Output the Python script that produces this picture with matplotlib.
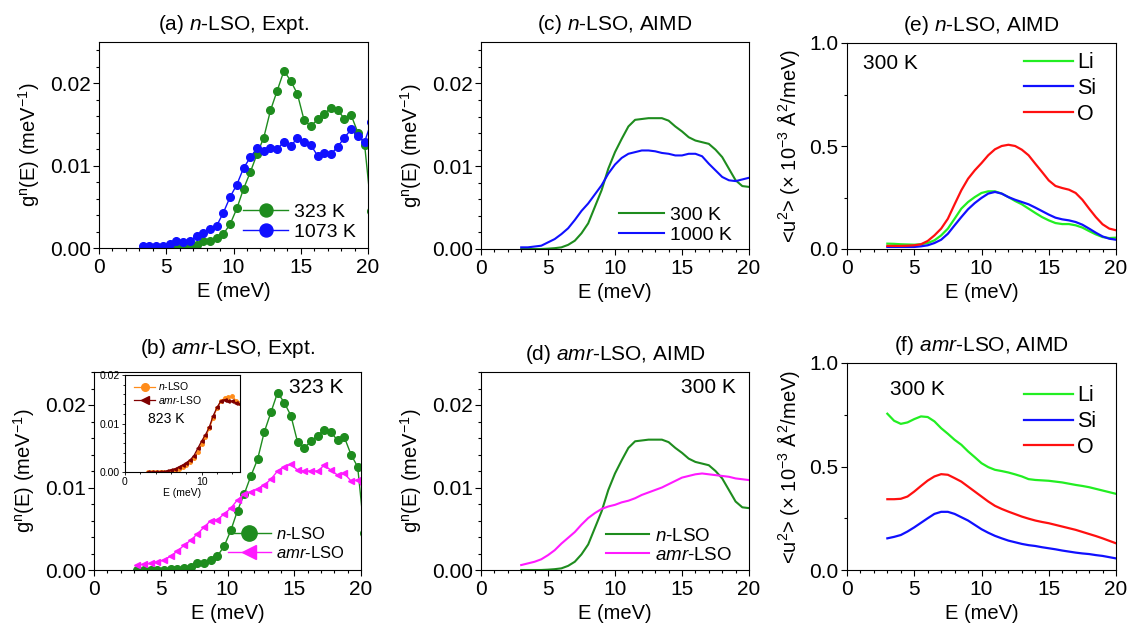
import matplotlib
matplotlib.use('Agg')
import matplotlib.pyplot as plt
from matplotlib.ticker import MultipleLocator

plt.rcParams['font.family'] = ['Liberation Sans', 'DejaVu Sans']
plt.rcParams['mathtext.fontset'] = 'custom'
plt.rcParams['mathtext.rm'] = 'Liberation Sans'
plt.rcParams['mathtext.it'] = 'Liberation Sans:italic'
plt.rcParams['axes.linewidth'] = 0.8

# --- experimental DOS, 0.5 meV bins (last bin lies beyond the 20 meV axis limit)
e_expt = [3.25, 3.75, 4.25, 4.75, 5.25, 5.75, 6.25, 6.75, 7.25, 7.75,
          8.25, 8.75, 9.25, 9.75, 10.25, 10.75, 11.25, 11.75, 12.25, 12.75,
          13.25, 13.75, 14.25, 14.75, 15.25, 15.75, 16.25, 16.75, 17.25, 17.75,
          18.25, 18.75, 19.25, 19.75, 20.25]
g_n_323 = [0.0000, 0.0000, 0.0000, 0.0000, 0.0000, 0.0001, 0.0001, 0.0002, 0.0004, 0.0008,
           0.0009, 0.0012, 0.0017, 0.0029, 0.0048, 0.0072, 0.0092, 0.0114, 0.0134, 0.0167,
           0.0191, 0.0215, 0.0203, 0.0187, 0.0155, 0.0148, 0.0156, 0.0163, 0.0170, 0.0167,
           0.0157, 0.0161, 0.0140, 0.0125, 0.0045]
g_n_1073 = [0.0003, 0.0003, 0.0003, 0.0003, 0.0005, 0.0008, 0.0007, 0.0008, 0.0015, 0.0018,
            0.0023, 0.0027, 0.0043, 0.0062, 0.0077, 0.0097, 0.0110, 0.0121, 0.0118, 0.0121,
            0.0120, 0.0129, 0.0124, 0.0133, 0.0129, 0.0125, 0.0112, 0.0115, 0.0114, 0.0123,
            0.0134, 0.0144, 0.0136, 0.0129, 0.0153]
g_amr_323 = [0.0006, 0.0007, 0.0008, 0.0010, 0.0012, 0.0017, 0.0023, 0.0030, 0.0036, 0.0044,
             0.0052, 0.0060, 0.0061, 0.0068, 0.0075, 0.0085, 0.0092, 0.0095, 0.0098, 0.0103,
             0.0110, 0.0120, 0.0125, 0.0128, 0.0121, 0.0120, 0.0120, 0.0120, 0.0127, 0.0121,
             0.0115, 0.0117, 0.0108, 0.0109, 0.0097]

# inset: 823 K
e_inset = [3.0, 3.5, 4.0, 4.5, 5.0, 5.5, 6.0, 6.5, 7.0, 7.5, 8.0, 8.5, 9.0,
           9.5, 10.0, 10.5, 11.0, 11.5, 12.0, 12.5, 13.0, 13.5, 14.0, 14.5, 15.0]
g_n_823 = [0.0000, 0.0000, 0.0000, 0.0000, 0.0000, 0.0001, 0.0002, 0.0004, 0.0007, 0.0010,
           0.0014, 0.0020, 0.0029, 0.0042, 0.0057, 0.0072, 0.0090, 0.0112, 0.0132, 0.0147,
           0.0152, 0.0154, 0.0156, 0.0147, 0.0142]
g_amr_823 = [0.0000, 0.0000, 0.0000, 0.0000, 0.0000, 0.0002, 0.0004, 0.0006, 0.0010, 0.0014,
             0.0019, 0.0025, 0.0034, 0.0049, 0.0064, 0.0077, 0.0093, 0.0116, 0.0133, 0.0146,
             0.0149, 0.0147, 0.0146, 0.0143, 0.0140]

# --- AIMD results
e_md = [3.0, 3.5, 4.0, 4.5, 5.0, 5.5, 6.0, 6.5, 7.0, 7.5, 8.0, 8.5, 9.0, 9.5, 10.0,
        10.5, 11.0, 11.5, 12.0, 12.5, 13.0, 13.5, 14.0, 14.5, 15.0, 15.5, 16.0, 16.5,
        17.0, 17.5, 18.0, 18.5, 19.0, 19.5, 20.0]
md_n_300 = [0.0000, 0.0000, 0.0000, 0.0000, 0.00004, 0.0001, 0.0002, 0.0005, 0.0010, 0.0019,
            0.0031, 0.0051, 0.0071, 0.0097, 0.0117, 0.0133, 0.0148, 0.0156, 0.0157, 0.0158,
            0.0158, 0.0158, 0.0155, 0.0148, 0.0142, 0.0135, 0.0131, 0.0129, 0.0127, 0.0120,
            0.0111, 0.0097, 0.0083, 0.0076, 0.0075]
md_n_1000 = [0.0002, 0.0002, 0.0003, 0.0004, 0.0008, 0.0012, 0.0018, 0.0025, 0.0035, 0.0046,
             0.0055, 0.0066, 0.0077, 0.0091, 0.0102, 0.0110, 0.0115, 0.0117, 0.0119, 0.0119,
             0.0118, 0.0116, 0.0115, 0.0113, 0.0113, 0.0115, 0.0115, 0.0112, 0.0103, 0.0095,
             0.0087, 0.0083, 0.0082, 0.0084, 0.0086]
md_amr_300 = [0.0006, 0.0008, 0.0010, 0.0013, 0.0018, 0.0024, 0.0032, 0.0039, 0.0046, 0.0055,
              0.0063, 0.0069, 0.0074, 0.0077, 0.0079, 0.0082, 0.0084, 0.0087, 0.0091, 0.0094,
              0.0097, 0.0100, 0.0104, 0.0108, 0.0112, 0.0114, 0.0116, 0.0117, 0.0116, 0.0115,
              0.0114, 0.0113, 0.0111, 0.0110, 0.0109]

u2_n_li = [0.026, 0.025, 0.023, 0.022, 0.021, 0.023, 0.029, 0.042, 0.066, 0.099,
           0.147, 0.196, 0.228, 0.252, 0.272, 0.280, 0.280, 0.269, 0.252, 0.233,
           0.217, 0.196, 0.175, 0.155, 0.139, 0.126, 0.121, 0.121, 0.115, 0.104,
           0.087, 0.071, 0.058, 0.053, 0.055]
u2_n_si = [0.010, 0.010, 0.010, 0.010, 0.010, 0.013, 0.018, 0.029, 0.045, 0.074,
           0.115, 0.155, 0.193, 0.223, 0.248, 0.269, 0.277, 0.269, 0.252, 0.239,
           0.228, 0.217, 0.201, 0.184, 0.167, 0.152, 0.144, 0.139, 0.131, 0.118,
           0.099, 0.079, 0.061, 0.050, 0.045]
u2_n_o = [0.015, 0.015, 0.015, 0.016, 0.018, 0.023, 0.039, 0.066, 0.099, 0.147,
          0.217, 0.285, 0.341, 0.382, 0.417, 0.455, 0.484, 0.500, 0.506, 0.500,
          0.482, 0.455, 0.414, 0.374, 0.333, 0.306, 0.296, 0.288, 0.272, 0.239,
          0.196, 0.155, 0.120, 0.099, 0.091]

u2_amr_li = [0.755, 0.721, 0.706, 0.713, 0.729, 0.742, 0.739, 0.718, 0.685, 0.658,
             0.629, 0.605, 0.573, 0.545, 0.516, 0.497, 0.484, 0.478, 0.471, 0.462,
             0.452, 0.439, 0.435, 0.433, 0.431, 0.427, 0.423, 0.417, 0.411, 0.406,
             0.400, 0.392, 0.384, 0.376, 0.368]
u2_amr_si = [0.153, 0.160, 0.169, 0.186, 0.206, 0.228, 0.250, 0.271, 0.281, 0.281,
             0.271, 0.255, 0.239, 0.218, 0.197, 0.180, 0.165, 0.153, 0.142, 0.134,
             0.126, 0.120, 0.116, 0.110, 0.105, 0.100, 0.094, 0.089, 0.084, 0.080,
             0.077, 0.072, 0.068, 0.062, 0.056]
u2_amr_o = [0.342, 0.342, 0.344, 0.355, 0.379, 0.406, 0.432, 0.452, 0.463, 0.460,
            0.444, 0.427, 0.403, 0.379, 0.355, 0.331, 0.310, 0.295, 0.282, 0.270,
            0.258, 0.248, 0.239, 0.232, 0.226, 0.218, 0.210, 0.202, 0.194, 0.184,
            0.174, 0.164, 0.153, 0.141, 0.129]

GREEN = '#1e8c1e'
BLUE = '#1010ff'
MAGENTA = '#ff1aff'
LGREEN = '#22ee22'
RED = '#ff1010'

W, H = 1137, 626
fig = plt.figure(figsize=(W / 100, H / 100), dpi=100)


def add_panel(left, top, right, bottom):
    # pixel box -> figure fraction
    return fig.add_axes([left / W, 1 - bottom / H, (right - left) / W, (bottom - top) / H])


def style_axes(ax, title, ylabel, ymax, ymajor, yminor, yfmt, title_pad=8.5):
    ax.set_xlim(0, 20)
    ax.set_ylim(0, ymax)
    ax.xaxis.set_major_locator(MultipleLocator(5))
    ax.xaxis.set_minor_locator(MultipleLocator(1))
    ax.yaxis.set_major_locator(MultipleLocator(ymajor))
    ax.yaxis.set_minor_locator(MultipleLocator(yminor))
    ax.yaxis.set_major_formatter(plt.FormatStrFormatter(yfmt))
    ax.tick_params(which='major', direction='out', length=4, width=0.8, labelsize=15, pad=2)
    ax.tick_params(which='minor', direction='out', length=2.5, width=0.8)
    ax.tick_params(axis='x', which='major', pad=3.5)
    ax.set_xlabel('E (meV)', fontsize=14.5, labelpad=3)
    ax.set_ylabel(ylabel, fontsize=14.5, labelpad=5.5)
    ax.set_title(title, fontsize=15, pad=title_pad)


g_label = r'g$^{\rm n}$(E) (meV$^{-1}$)'
u_label = r'<u$^2$> (× 10$^{-3}$ Å$^2$/meV)'

# (a) n-LSO experiment
ax = add_panel(99, 42, 368, 248)
ax.plot(e_expt, g_n_323, '-o', color=GREEN, lw=1.0, ms=5.5, label='323 K')
ax.plot(e_expt, g_n_1073, '-o', color=BLUE, lw=1.0, ms=5.5, label='1073 K')
style_axes(ax, r'(a) $n$-LSO, Expt.', g_label, 0.025, 0.01, 0.002, '%.2f')
ax.legend(loc='lower right', bbox_to_anchor=(1.02, -0.05), frameon=False, fontsize=14,
          markerscale=1.7, handlelength=2.3, handletextpad=0.3, labelspacing=0.12)

# (b) amr-LSO experiment
ax = add_panel(94, 372, 361, 570)
ax.plot(e_expt, g_n_323, '-o', color=GREEN, lw=1.0, ms=5.5, label=r'$n$-LSO')
ax.plot(e_expt, g_amr_323, '-<', color=MAGENTA, lw=1.0, ms=5, label=r'$amr$-LSO')
style_axes(ax, r'(b) $amr$-LSO, Expt.', g_label, 0.024, 0.01, 0.002, '%.2f', title_pad=13)
ax.text(0.73, 0.92, '323 K', transform=ax.transAxes, fontsize=15, ha='left', va='center')
ax.legend(loc='lower right', bbox_to_anchor=(0.995, -0.03), frameon=False, fontsize=12,
          markerscale=2.0, handlelength=2.6, handletextpad=0.3, labelspacing=0.2)

# inset: 823 K comparison
axi = add_panel(125, 375, 240, 472)
axi.plot(e_inset, g_n_823, '-o', color='#ff8c1a', lw=0.9, ms=2.5, label=r'$n$-LSO')
axi.plot(e_inset, g_amr_823, '-<', color='#800000', lw=0.9, ms=2.5, label=r'$amr$-LSO')
axi.set_xlim(0, 15)
axi.set_ylim(0, 0.02)
axi.xaxis.set_major_locator(MultipleLocator(10))
axi.xaxis.set_minor_locator(MultipleLocator(2))
axi.yaxis.set_major_locator(MultipleLocator(0.01))
axi.yaxis.set_minor_locator(MultipleLocator(0.002))
axi.yaxis.set_major_formatter(plt.FormatStrFormatter('%.2f'))
axi.tick_params(which='major', direction='out', length=2.5, width=0.6, labelsize=7.5, pad=1)
axi.tick_params(which='minor', direction='out', length=1.5, width=0.6)
axi.set_xlabel('E (meV)', fontsize=7.5, labelpad=0.5)
axi.text(0.2, 0.55, '823 K', transform=axi.transAxes, fontsize=10, ha='left', va='center')
axi.legend(loc='upper left', bbox_to_anchor=(0.0, 1.04), frameon=False, fontsize=7.5,
           markerscale=2.2, handlelength=2.0, handletextpad=0.3, labelspacing=0.1)

# (c) n-LSO AIMD
ax = add_panel(481, 42, 749, 249)
ax.plot(e_md, md_n_300, color=GREEN, lw=1.5, label='300 K')
ax.plot(e_md, md_n_1000, color=BLUE, lw=1.5, label='1000 K')
style_axes(ax, r'(c) $n$-LSO, AIMD', g_label, 0.025, 0.01, 0.002, '%.2f')
ax.legend(loc='lower right', bbox_to_anchor=(1.0, -0.06), frameon=False, fontsize=14,
          handlelength=2.3, handletextpad=0.3, labelspacing=0.12)

# (d) amr-LSO AIMD
ax = add_panel(481, 372, 749, 570)
ax.plot(e_md, md_n_300, color=GREEN, lw=1.5, label=r'$n$-LSO')
ax.plot(e_md, md_amr_300, color=MAGENTA, lw=1.5, label=r'$amr$-LSO')
style_axes(ax, r'(d) $amr$-LSO, AIMD', g_label, 0.024, 0.01, 0.002, '%.2f')
ax.text(0.95, 0.92, '300 K', transform=ax.transAxes, fontsize=15, ha='right', va='center')
ax.legend(loc='lower right', bbox_to_anchor=(1.0, -0.055), frameon=False, fontsize=13.5,
          handlelength=2.3, handletextpad=0.3, labelspacing=0.12)

# (e) n-LSO mean-square displacement
ax = add_panel(847, 43, 1116, 249)
ax.plot(e_md, u2_n_li, color=LGREEN, lw=1.6, label='Li')
ax.plot(e_md, u2_n_si, color=BLUE, lw=1.6, label='Si')
ax.plot(e_md, u2_n_o, color=RED, lw=1.6, label='O')
style_axes(ax, r'(e) $n$-LSO, AIMD', u_label, 1.0, 0.5, 0.25, '%.1f')
ax.text(0.06, 0.9, '300 K', transform=ax.transAxes, fontsize=15, ha='left', va='center')
ax.legend(loc='upper right', bbox_to_anchor=(1.0, 1.05), frameon=False, fontsize=15.5,
          handlelength=2.3, handletextpad=0.2, labelspacing=0.22)

# (f) amr-LSO mean-square displacement
ax = add_panel(847, 363, 1116, 570)
ax.plot(e_md, u2_amr_li, color=LGREEN, lw=1.6, label='Li')
ax.plot(e_md, u2_amr_si, color=BLUE, lw=1.6, label='Si')
ax.plot(e_md, u2_amr_o, color=RED, lw=1.6, label='O')
style_axes(ax, r'(f) $amr$-LSO, AIMD', u_label, 1.0, 0.5, 0.25, '%.1f')
ax.text(0.16, 0.87, '300 K', transform=ax.transAxes, fontsize=15, ha='left', va='center')
ax.legend(loc='upper right', bbox_to_anchor=(1.0, 0.985), frameon=False, fontsize=15.5,
          handlelength=2.3, handletextpad=0.2, labelspacing=0.22)

fig.savefig('out.png', dpi=100)
